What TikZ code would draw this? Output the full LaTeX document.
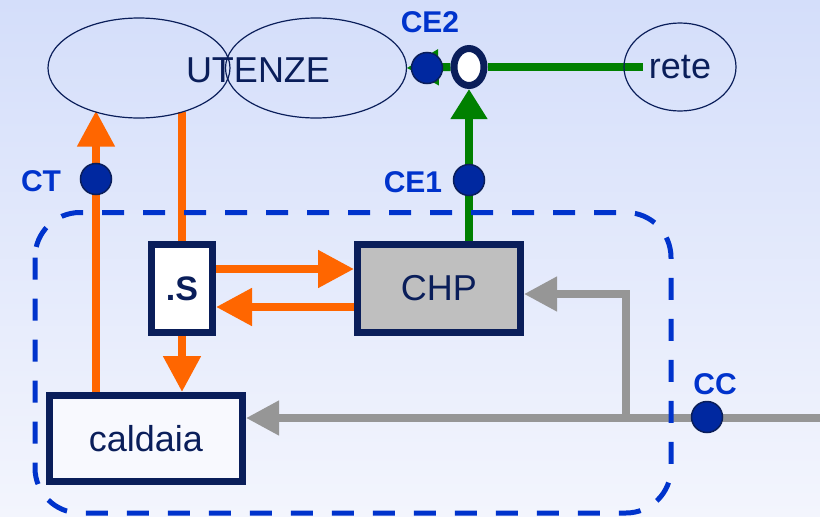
\documentclass[tikz,border=0pt]{standalone}
\usepackage{fontspec}
\setmainfont{Liberation Sans}
\usetikzlibrary{arrows.meta,shapes.geometric}
\definecolor{navy}{RGB}{10,30,90}
\definecolor{lblue}{RGB}{0,51,204}
\definecolor{dotblue}{RGB}{0,40,160}
\definecolor{flowor}{RGB}{255,102,0}
\definecolor{flowgr}{RGB}{0,128,0}
\definecolor{flowgy}{RGB}{150,150,150}
\definecolor{bgtop}{RGB}{212,222,250}
\definecolor{bgbot}{RGB}{243,245,253}
\pgfdeclarelayer{bg}
\pgfdeclarelayer{flows}
\pgfsetlayers{bg,flows,main}
\tikzset{
  unit/.style={draw=navy, line width=7pt, text=navy, inner sep=0pt, font=\fontsize{36}{40}\selectfont},
  zone/.style={ellipse, draw=navy, line width=1.2pt, inner sep=0pt, outer sep=0pt, text=navy, font=\fontsize{36}{40}\selectfont},
  meter/.style={circle, draw=navy, fill=dotblue, line width=1.5pt, minimum size=31pt, inner sep=0pt},
  tag/.style={text=lblue, font=\bfseries\fontsize{30}{32}\selectfont},
  heat/.style={draw=flowor, line width=8pt},
  elec/.style={draw=flowgr, line width=8pt},
  fuel/.style={draw=flowgy, line width=7.5pt},
  tipH/.style={-{Triangle[length=36pt,width=36pt]}},
  tipE/.style={-{Triangle[length=30pt,width=35pt]}},
  tipF/.style={-{Triangle[length=33pt,width=33pt]}}
}
\begin{document}
\begin{tikzpicture}[x=1pt,y=-1pt]
\clip (0,0) rectangle (820,517);
\begin{pgfonlayer}{bg}
\shade[top color=bgtop, bottom color=bgbot] (0,0) rectangle (820,517);
\end{pgfonlayer}

% users and grid
\node[zone, minimum width=182pt, minimum height=100pt] (ut1) at (139,68) {};
\node[zone, minimum width=181pt, minimum height=100pt] (ut2) at (316,68) {};
\node[text=navy, font=\fontsize{36}{40}\selectfont] (utenze) at (258,70) {UTENZE};
\node[zone, minimum width=112pt, minimum height=88pt] (rete) at (680,67) {rete};
\node[ellipse, draw=navy, fill=white, line width=7pt, minimum width=30pt, minimum height=37pt, inner sep=0pt] (ring) at (469,67) {};

% plant boundary
\draw[lblue, line width=5pt, dash pattern=on 22pt off 19pt, rounded corners=45pt] (35,212.5) rectangle (671,513);

% plant
\node[unit, fill=white, minimum width=61pt, minimum height=88pt, font=\bfseries\fontsize{34}{38}\selectfont] (sbox) at (182,288.5) {.S};
\node[unit, fill=black!25, minimum width=163pt, minimum height=88pt] (chp) at (439,288.5) {CHP};
\node[unit, fill=bgbot!60!white, minimum width=193pt, minimum height=86pt] (caldaia) at (146,438.5) {caldaia};

% meters
\node[meter] (ctdot) at (96,179) {};
\node[meter] (ce1dot) at (469,180) {};
\node[meter] (ce2dot) at (427,68) {};
\node[meter] (ccdot) at (707,417) {};
\node[tag] (ct) at (41,181) {CT};
\node[tag] (ce1) at (413,182) {CE1};
\node[tag] (ce2) at (430,22) {CE2};
\node[tag] (cc) at (715,384) {CC};

\coordinate (ccin) at (820,418);
\coordinate (branch) at (626,418);

\begin{pgfonlayer}{flows}
\draw[heat, tipH] (caldaia.north -| ctdot) -- (ctdot |- ut1.222);
\draw[heat] (sbox |- ut1.315) -- (sbox.north);
\draw[heat, tipH] (sbox.south) -- (sbox.south |- caldaia.north);
\draw[heat, tipH] ([yshift=19.5pt]sbox.east) -- ([yshift=19.5pt]chp.west);
\draw[heat, tipH] ([yshift=-18.5pt]chp.west) -- ([yshift=-18.5pt]sbox.east);

\draw[elec, tipE] (chp.north -| ring) -- (ring.south);
\draw[elec, -{Triangle[length=32pt,width=34pt]}] (ring.west) -- (ut2.east);
\draw[elec] (ring.east) -- ([xshift=19pt]rete.west);

\draw[fuel, tipF] (ccin) -- (caldaia.east |- ccin);
\draw[fuel, tipF] (branch) |- ([yshift=-5.5pt]chp.east);
\end{pgfonlayer}
\end{tikzpicture}
\end{document}
